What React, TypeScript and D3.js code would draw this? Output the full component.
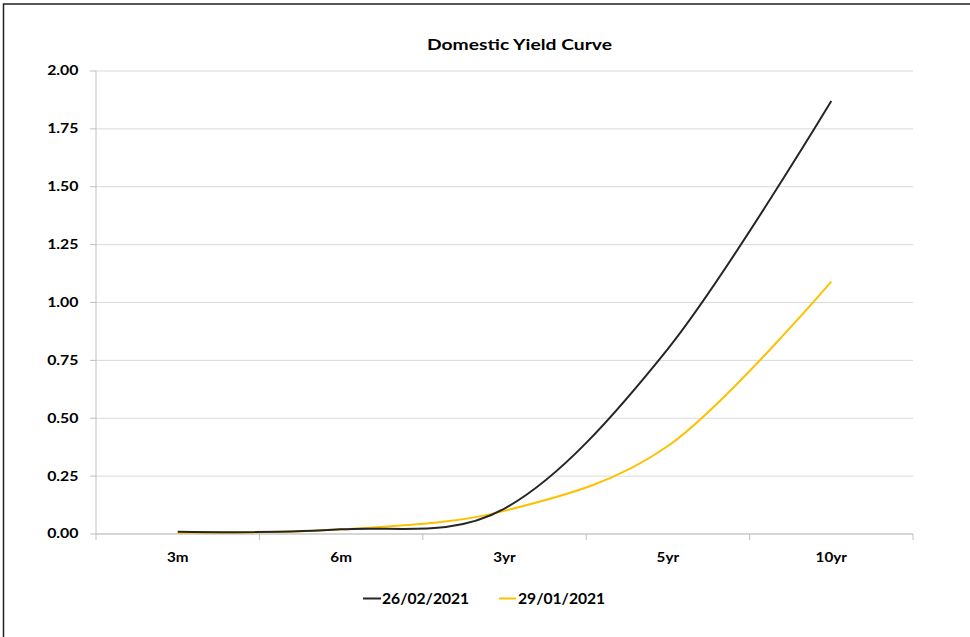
import React from "react";
import * as d3 from "d3";

const categories = ["3m", "6m", "3yr", "5yr", "10yr"];
const series1Name = "26/02/2021";
const series1 = [0.01, 0.02, 0.11, 0.8, 1.87];
const series2Name = "29/01/2021";
const series2 = [0.005, 0.02, 0.1, 0.38, 1.09];
const yTicks = [0, 0.25, 0.5, 0.75, 1.0, 1.25, 1.5, 1.75, 2.0];
const title = "Domestic Yield Curve";

const W = 970;
const H = 637;
const FONT = "Lato, 'Open Sans', 'Liberation Sans', sans-serif";

function T(props: {
  x: number;
  y: number;
  size: number;
  sx: number;
  anchor?: "start" | "middle" | "end";
  children: React.ReactNode;
}) {
  return (
    <text
      transform={`translate(${props.x},${props.y}) scale(${props.sx},1)`}
      textAnchor={props.anchor || "start"}
      fontSize={props.size}
      fontWeight="bold"
      fill="#000"
    >
      {props.children}
    </text>
  );
}

export default function App() {
  const left = 96;
  const right = 913;
  const top = 71;
  const bottom = 534;
  const x = d3.scaleBand<string>().domain(categories).range([left, right]).padding(0);
  const y = d3.scaleLinear().domain([0, 2]).range([bottom, top]);
  const cx = (c: string) => (x(c) as number) + x.bandwidth() / 2;
  const line = d3
    .line<number>()
    .x((_, i) => cx(categories[i]))
    .y((d) => y(d))
    .curve(d3.curveCardinal.tension(0));
  const boundaries = categories.map((c) => x(c) as number).concat([right]);
  const grid = "#D9D9D9";
  const axisCol = "#BFBFBF";
  return (
    <svg
      width={W}
      height={H}
      style={{ position: "absolute", left: 0, top: 0, background: "#fff" }}
      fontFamily={FONT}
    >
      <rect x={0} y={0} width={W} height={H} fill="#fff" />
      <path d={`M3.5,${H} V4 H${W + 5}`} fill="none" stroke="#222" strokeWidth={1.5} />
      <T x={519.5} y={50} size={14.5} sx={1.33} anchor="middle">
        {title}
      </T>
      {yTicks.map((t) => (
        <g key={t}>
          <line x1={left} x2={right} y1={y(t)} y2={y(t)} stroke={grid} strokeWidth={1} />
          <line x1={left - 6} x2={left} y1={y(t)} y2={y(t)} stroke={axisCol} strokeWidth={1} />
          <T x={78.5} y={y(t) + 4.4} size={12.5} sx={1.27} anchor="end">
            {t.toFixed(2)}
          </T>
        </g>
      ))}
      <line x1={left} x2={left} y1={top} y2={bottom} stroke={axisCol} strokeWidth={1} />
      <line x1={left} x2={right} y1={bottom} y2={bottom} stroke={axisCol} strokeWidth={1} />
      {boundaries.map((b, i) => (
        <line key={i} x1={b} x2={b} y1={bottom} y2={bottom + 6} stroke={axisCol} strokeWidth={1} />
      ))}
      {categories.map((c) => (
        <T key={c} x={cx(c)} y={562} size={12.5} sx={1.22} anchor="middle">
          {c}
        </T>
      ))}
      <path d={line(series2) || ""} fill="none" stroke="#FFC000" strokeWidth={2} />
      <path d={line(series1) || ""} fill="none" stroke="#262626" strokeWidth={2} />
      <g>
        <line x1={363} x2={381} y1={598.5} y2={598.5} stroke="#262626" strokeWidth={2} />
        <T x={382} y={603.5} size={14.5} sx={1.08}>
          {series1Name}
        </T>
        <line x1={499} x2={516} y1={598.5} y2={598.5} stroke="#FFC000" strokeWidth={2} />
        <T x={518} y={603.5} size={14.5} sx={1.08}>
          {series2Name}
        </T>
      </g>
    </svg>
  );
}
